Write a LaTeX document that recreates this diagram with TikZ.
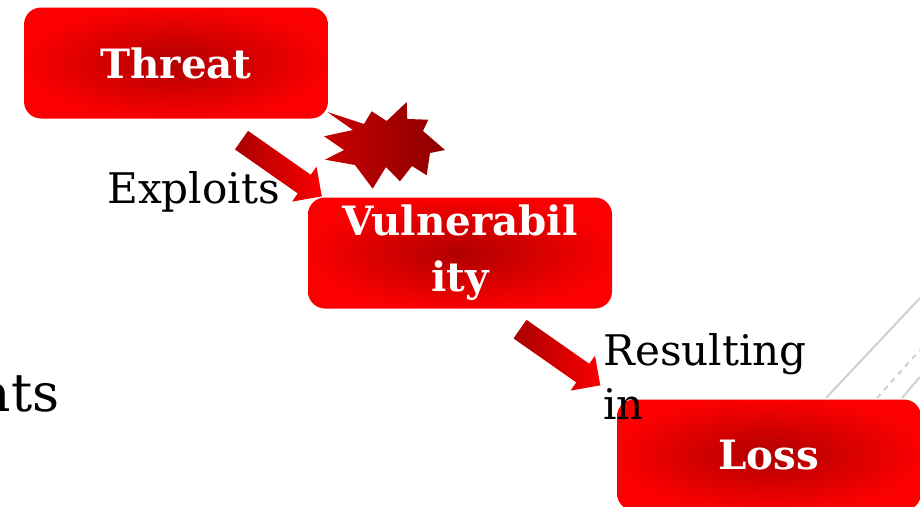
\documentclass[tikz,border=0pt]{standalone}
\usepackage{fontspec}
\setmainfont{DejaVu Serif}
\usetikzlibrary{shapes.arrows}
\newlength{\pxsize}
\setlength{\pxsize}{0.02cm}
\definecolor{boxred}{RGB}{250,0,0}
\definecolor{boxdark}{RGB}{176,0,0}
\definecolor{arrowdark}{RGB}{170,0,0}
\definecolor{burstdark}{RGB}{140,0,0}
\definecolor{burstred}{RGB}{200,0,0}
\definecolor{linegray}{RGB}{208,208,208}
\begin{document}
\begin{tikzpicture}[x=0.02cm,y=-0.02cm,
    box/.style={rectangle,rounded corners=17\pxsize,inner color=boxdark,outer color=boxred,
        minimum width=304\pxsize,minimum height=111\pxsize,text=white,align=center,
        font=\bfseries\fontsize{23}{32}\selectfont},
    fatarrow/.style={single arrow,minimum height=98\pxsize,inner xsep=0pt,inner ysep=11\pxsize,
        single arrow head extend=10\pxsize,left color=arrowdark,right color=boxred},
    lbl/.style={inner sep=0pt,align=left,font=\fontsize{24}{31}\selectfont}]
            \clip (0,0) rectangle (920,507);
            \draw[linegray,line width=2\pxsize] (826,398)--(920,298);
            \draw[linegray,line width=2\pxsize,dashed] (877,398)--(920,350);
            \draw[linegray,line width=2\pxsize] (902,398)--(920,377);
            \node[box] (threat) at (176,63) {Threat};
            \node[box] (vuln) at (460,253) {Vulnerabil\\ity};
            \node[box] (loss) at (769,455) {Loss};
            \shade[left color=burstred,right color=burstdark] (327.3,112)--(353,130)--(324,136.3)--(344,150)
                --(325,159.7)--(355,165)--(372.7,188.7)--(386,167)--(400,181.3)--(412,166)
                --(426.7,175.3)--(430,153)--(445,150)--(423,131)--(428.3,119.7)--(407.3,119)
                --(406.7,102)--(386.7,121)--(371.7,111.3)--(364,124)--cycle;
            \node[fatarrow,rotate=-35] (exploitarrow) at (277,165) {};
            \node[fatarrow,rotate=-35] (lossarrow) at (555.5,354) {};
            \node[lbl,anchor=base west] (exploits) at (107,203) {Exploits};
            \node[lbl,anchor=north west] (resulting) at (603,333) {Resulting\\in};
            \node[lbl,font=\fontsize{30}{36}\selectfont,anchor=base east] (ats) at (60,411) {ats};
\end{tikzpicture}
\end{document}
